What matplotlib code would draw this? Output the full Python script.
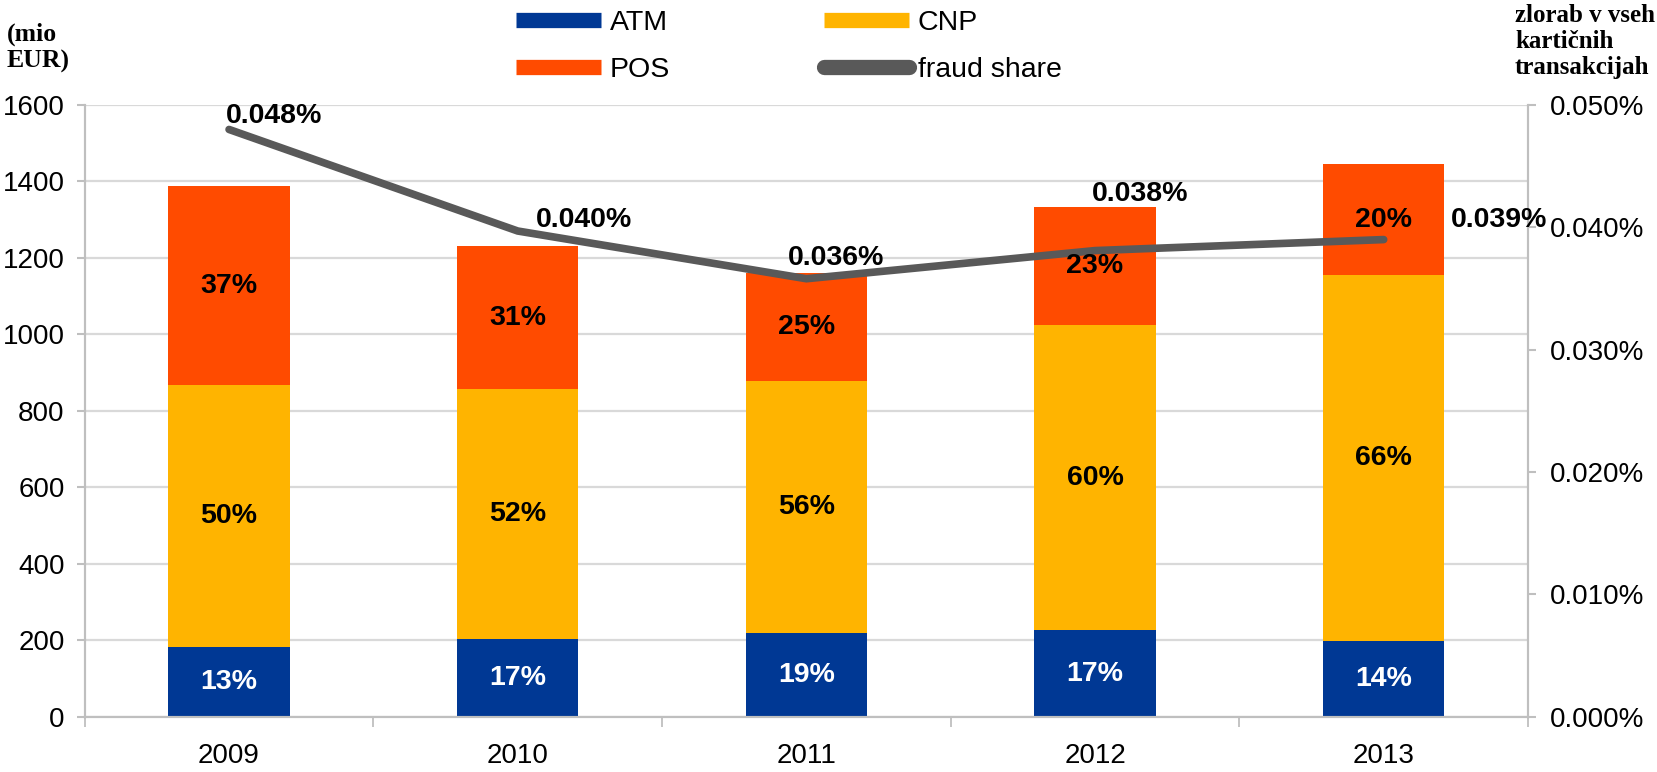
import matplotlib
matplotlib.use('Agg')
import matplotlib.pyplot as plt
from matplotlib.lines import Line2D
from matplotlib.ticker import FuncFormatter, MultipleLocator, FixedLocator

# ---------------------------------------------------------------
# Data
# ---------------------------------------------------------------
years = ['2009', '2010', '2011', '2012', '2013']
atm = [182, 204, 218, 226, 197]          # [mio EUR]
cnp = [685, 652, 660, 798, 958]          # [mio EUR]
pos = [521, 376, 283, 310, 290]          # [mio EUR]

atm_pct = ['13%', '17%', '19%', '17%', '14%']
cnp_pct = ['50%', '52%', '56%', '60%', '66%']
pos_pct = ['37%', '31%', '25%', '23%', '20%']

fraud_share = [0.048, 0.0397, 0.0358, 0.0381, 0.039]     # [%]
fraud_labels = ['0.048%', '0.040%', '0.036%', '0.038%', '0.039%']

# label offsets for the line values [px]
label_offsets = [(45, 13), (66, 11), (30, 21), (45, 57), (115, 20)]

# ---------------------------------------------------------------
# Style
# ---------------------------------------------------------------
c_atm = '#003894'
c_cnp = '#FFB400'
c_pos = '#FF4B00'
c_line = '#595959'
c_grid = '#D9D9D9'
c_spine = '#BFBFBF'
fs = 20
fs_bold = 20.5

plt.rcParams['font.family'] = ['Liberation Sans', 'DejaVu Sans']

fig = plt.figure(figsize=(16.58, 7.72), dpi=100)
ax = fig.add_axes([0.0511, 0.0716, 0.8705, 0.7924])
ax2 = ax.twinx()

x = list(range(len(years)))
bottom_cnp = atm
bottom_pos = [a + c for a, c in zip(atm, cnp)]
w = 0.42

ax.bar(x, atm, w, color=c_atm, zorder=2)
ax.bar(x, cnp, w, bottom=bottom_cnp, color=c_cnp, zorder=2)
ax.bar(x, pos, w, bottom=bottom_pos, color=c_pos, zorder=2)

# segment labels
for i in x:
    ax2.text(i, atm[i] / 2, atm_pct[i], transform=ax.transData, ha='center', va='center',
             color='white', fontsize=fs_bold, fontweight='bold', zorder=5)
    ax2.text(i, atm[i] + cnp[i] / 2, cnp_pct[i], transform=ax.transData, ha='center', va='center',
             color='black', fontsize=fs_bold, fontweight='bold', zorder=5)
    ax2.text(i, bottom_pos[i] + pos[i] / 2, pos_pct[i], transform=ax.transData, ha='center',
             va='center', color='black', fontsize=fs_bold, fontweight='bold', zorder=5)

# fraud share line
ax2.plot(x, fraud_share, color=c_line, lw=5.5, solid_capstyle='round', solid_joinstyle='miter',
         zorder=3)
for i in x:
    ax2.annotate(fraud_labels[i], (i, fraud_share[i]), xytext=label_offsets[i],
                 textcoords='offset pixels', ha='center', va='center', fontsize=fs_bold,
                 fontweight='bold', zorder=5)

# axes
ax.set_xlim(-0.5, 4.5)
ax.set_ylim(0, 1600)
ax2.set_ylim(0, 0.05)
ax.yaxis.set_major_locator(MultipleLocator(200))
ax2.yaxis.set_major_locator(MultipleLocator(0.01))
ax2.yaxis.set_major_formatter(FuncFormatter(lambda v, p: f'{v:.3f}%'))

ax.set_xticks(x)
ax.set_xticklabels(years)
ax.xaxis.set_minor_locator(FixedLocator([-0.5, 0.5, 1.5, 2.5, 3.5, 4.5]))
ax.tick_params(axis='x', which='major', length=0, pad=19, labelsize=fs)
ax.tick_params(axis='x', which='minor', length=7, width=1.3, color=c_spine)
ax.tick_params(axis='y', length=5.5, width=1.5, color=c_spine, pad=9, labelsize=fs)
ax2.tick_params(axis='y', length=5.5, width=1.5, color=c_spine, pad=10, labelsize=fs)

ax.grid(axis='y', color=c_grid, lw=1.6, zorder=0)
ax.set_axisbelow(True)
for a in (ax, ax2):
    a.spines['top'].set_visible(False)
    for s in ('left', 'right', 'bottom'):
        a.spines[s].set_color(c_spine)
        a.spines[s].set_linewidth(1.5)

# axis titles
fig.text(7 / 1658, 1 - 23 / 772, '(mio\nEUR)', family=['Liberation Serif', 'DejaVu Serif'],
         fontweight='bold', fontsize=18.5, ha='left', va='top', linespacing=1.15)
fig.text(1655 / 1658, 1 - 4 / 772, 'zlorab v vseh\nkartičnih\ntransakcijah',
         family=['Liberation Serif', 'DejaVu Serif'], fontweight='bold', fontsize=18,
         ha='right', va='top', multialignment='left', linespacing=1.18)

# legend
handles = [Line2D([], [], color=c_atm, lw=11, solid_capstyle='butt'),
           Line2D([], [], color=c_pos, lw=11, solid_capstyle='butt'),
           Line2D([], [], color=c_cnp, lw=11, solid_capstyle='butt'),
           Line2D([], [], color=c_line, lw=11, solid_capstyle='round')]
labels = ['ATM', 'POS', 'CNP', 'fraud share']
fig.legend(handles, labels, loc='upper left', bbox_to_anchor=(516 / 1658, 1 - 10 / 772), ncol=2,
           frameon=False, handlelength=3.0, handletextpad=0.3, columnspacing=5.4,
           labelspacing=0.75, borderpad=0, borderaxespad=0, fontsize=20.5)

plt.savefig('out.png', dpi=100)
